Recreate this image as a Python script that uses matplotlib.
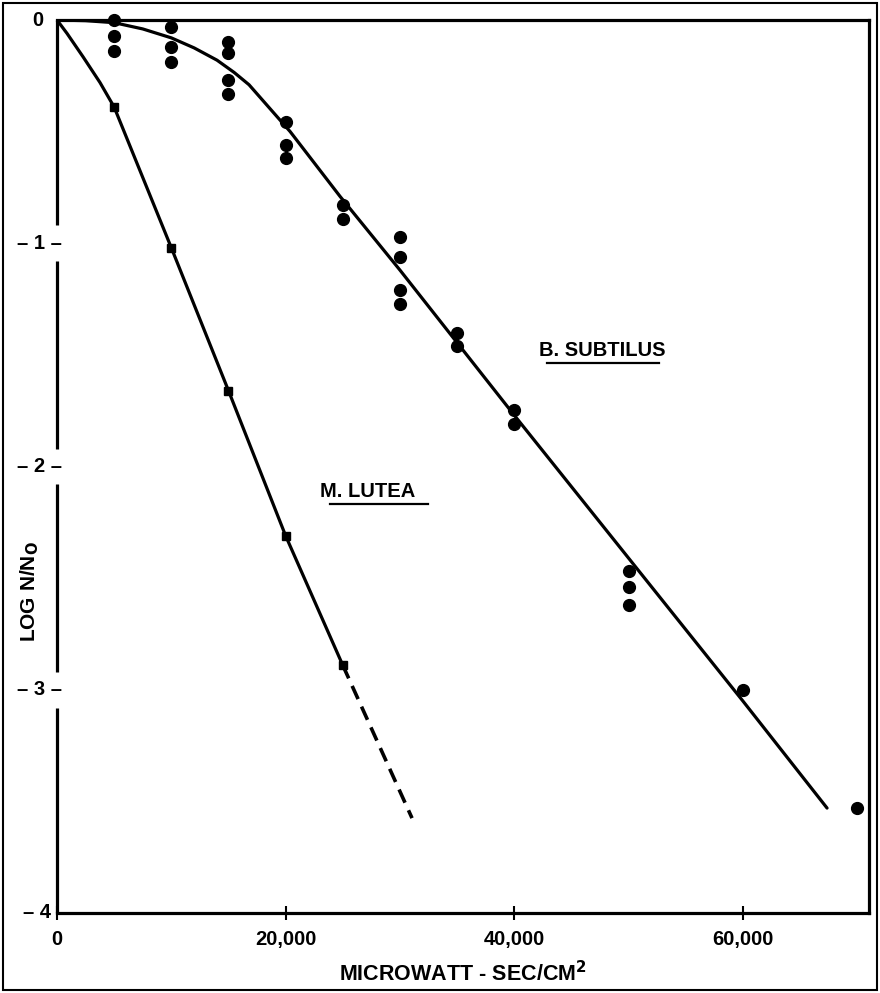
import matplotlib.pyplot as plt
import numpy as np
from matplotlib.patches import Rectangle

plt.rcParams['font.family'] = ['Liberation Sans', 'DejaVu Sans']
plt.rcParams['font.weight'] = 'bold'

# B. subtilis survival (dots)
bs_dose = [5000, 5000, 5000,
           10000, 10000, 10000,
           15000, 15000, 15000, 15000,
           20000, 20000, 20000,
           25000, 25000,
           30000, 30000, 30000, 30000,
           35000, 35000,
           40000, 40000,
           50000, 50000, 50000,
           60000,
           70000]
bs_log = [0.0, -0.07, -0.14,
          -0.03, -0.12, -0.19,
          -0.10, -0.15, -0.27, -0.33,
          -0.455, -0.56, -0.62,
          -0.83, -0.89,
          -0.97, -1.06, -1.21, -1.27,
          -1.40, -1.46,
          -1.745, -1.81,
          -2.47, -2.54, -2.62,
          -3.00,
          -3.53]

# hand-drawn fit through B. subtilis
bs_fit_dose = [0, 2500, 5000, 7500, 10000, 12000, 14000, 15500, 16800,
               18000, 19200, 20400, 24760, 30000, 40000, 50000, 60000, 67370]
bs_fit_log = [0.0, -0.003, -0.012, -0.04, -0.08, -0.125, -0.18, -0.235, -0.29,
              -0.36, -0.43, -0.50, -0.79, -1.12, -1.77, -2.41, -3.05, -3.53]

# M. lutea survival (squares)
ml_dose = [5000, 10000, 15000, 20000, 25000]
ml_log = [-0.39, -1.02, -1.66, -2.31, -2.89]

ml_fit_dose = [0, 875, 2280, 3760, 5000, 10000, 15000, 20000, 25000]
ml_fit_log = [0.0, -0.06, -0.165, -0.28, -0.39, -1.02, -1.66, -2.31, -2.89]
ml_ext_dose = [25000, 31060]
ml_ext_log = [-2.89, -3.575]

x_ticks = [0, 20000, 40000, 60000]
x_tick_labels = ['0', '20,000', '40,000', '60,000']
y_ticks = [-1, -2, -3]

fig = plt.figure(figsize=(8.8, 9.93), dpi=100)
ax = fig.add_axes([57 / 880, 1 - 913 / 993, 812 / 880, 893 / 993])

ax.plot(bs_fit_dose, bs_fit_log, color='black', lw=2.3, solid_capstyle='round',
        solid_joinstyle='round')
ax.plot(ml_fit_dose, ml_fit_log, color='black', lw=2.3, solid_capstyle='round',
        solid_joinstyle='round')
ax.plot(ml_ext_dose, ml_ext_log, color='black', lw=2.6, ls=(0, (4, 2.3)))
ax.plot(bs_dose, bs_log, 'o', color='black', ms=8.5, clip_on=False)
ax.plot(ml_dose, ml_log, 's', color='black', ms=6)

ax.set_xlim(0, 71040)
ax.set_ylim(-4, 0)

for side in ['top', 'right', 'bottom']:
    ax.spines[side].set_linewidth(2.3)
ax.spines['left'].set_visible(False)

# left axis drawn in pieces, broken where the tick labels sit
gap = 0.08
segs = [0.0] + [v for t in y_ticks for v in (t + gap, t - gap)] + [-4.0]
for top, bot in zip(segs[0::2], segs[1::2]):
    ax.plot([0, 0], [top, bot], color='black', lw=2.3, clip_on=False,
            solid_capstyle='butt')

ax.set_xticks(x_ticks)
ax.set_xticklabels(x_tick_labels, fontsize=14.5, fontweight='bold')
ax.tick_params(axis='x', direction='inout', length=10, width=1.5, pad=7)
ax.set_yticks([])

ax.text(-1200, 0.0, '0', ha='right', va='center', fontsize=14.5, fontweight='bold')
for t in y_ticks:
    ax.text(400, t, '\u2013 %d \u2013' % abs(t), ha='right', va='center',
            fontsize=14.5, fontweight='bold')
ax.text(-500, -4.0, '\u2013 4', ha='right', va='center', fontsize=14.5,
        fontweight='bold')

ax.set_xlabel('MICROWATT - SEC/CM$^\\mathbf{2}$', fontsize=15.5, fontweight='bold',
              labelpad=9)
ax.text(-2350, -2.56, 'LOG N/N$_\\mathbf{O}$', rotation=90, ha='center',
        va='center', fontsize=15, fontweight='bold')

ax.text(47700, -1.48, 'B. SUBTILUS', ha='center', va='center', fontsize=14.5,
        fontweight='bold')
ax.plot([42900, 52700], [-1.535, -1.535], color='black', lw=1.6)
ax.text(27200, -2.11, 'M. LUTEA', ha='center', va='center', fontsize=14.5,
        fontweight='bold')
ax.plot([23900, 32500], [-2.17, -2.17], color='black', lw=1.6)

# border round the whole figure
fig.patches.append(Rectangle((3 / 880, 3 / 993), 874 / 880, 987 / 993,
                             transform=fig.transFigure, fill=False,
                             edgecolor='black', lw=1.5))

fig.savefig('out.png', dpi=100)
